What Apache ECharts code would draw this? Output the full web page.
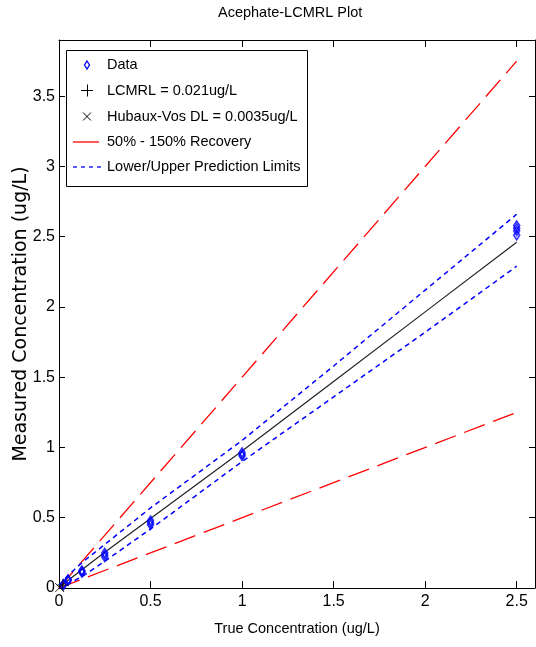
<!DOCTYPE html>
<html><head><meta charset="utf-8">
<script src="https://cdn.jsdelivr.net/npm/echarts@6/dist/echarts.min.js"></script>
<style>html,body{margin:0;padding:0;background:#fff}#c{width:536px;height:647px}</style>
</head><body><div id="c"></div>
<script>
// ---- data ----
const titleText = 'Acephate-LCMRL Plot';
const xName = 'True Concentration (ug/L)';
const yName = 'Measured Concentration (ug/L)';
const legendLabels = ['Data', 'LCMRL = 0.021ug/L', 'Hubaux-Vos DL = 0.0035ug/L', '50% - 150% Recovery', 'Lower/Upper Prediction Limits'];

const dataX = [0.025, 0.025, 0.05, 0.05, 0.05, 0.125, 0.125, 0.125, 0.25, 0.25, 0.25, 0.5, 0.5, 0.5, 1.0, 1.0, 1.0, 2.5, 2.5, 2.5, 2.5];
const dataY = [0.02, 0.028, 0.052, 0.057, 0.061, 0.11, 0.118, 0.125, 0.22, 0.235, 0.25, 0.45, 0.465, 0.48, 0.94, 0.95, 0.965, 2.51, 2.54, 2.56, 2.58];

const fitX   = [0, 0.05, 0.125, 0.25, 0.5, 1.0, 1.5, 2.0, 2.5];
const fitY   = [0.004, 0.055, 0.13, 0.255, 0.495, 0.975, 1.47, 1.965, 2.46];
const upperY = [0.02, 0.09, 0.18, 0.31, 0.57, 1.05, 1.58, 2.12, 2.66];
const lowerY = [-0.01, 0.03, 0.08, 0.19, 0.42, 0.9, 1.36, 1.82, 2.29];

const recoveryX = [0, 2.5];
const rec50  = [0, 1.25];
const rec150 = [0, 3.75];

const lcmrlPoint = [0.021, 0.021];
const hvPoint = [0.0035, 0.003];

const xMin = 0, xMax = 2.6, xStep = 0.5;
const yMin = 0, yMax = 3.9, yStep = 0.5;

// ---- build ----
const zip = (xs, ys) => xs.map((x, i) => [x, ys[i]]);
const SANS = "'Liberation Sans', Arial, sans-serif";
const plusPath = 'path://M5,0L5,10M0,5L10,5';
const crossPath = 'path://M0,0L10,10M10,0L0,10';

const chart = echarts.init(document.getElementById('c'), null, {renderer: 'canvas'});

const legendRows = [65, 90.5, 116.5, 142, 167];
const legendTextX = 107;
const legendGraphic = {
  type: 'group',
  children: [
    {type: 'rect', shape: {x: 66.5, y: 50.5, width: 241, height: 136}, style: {fill: '#fff', stroke: '#000', lineWidth: 1}, z: 100},
    {type: 'polygon', shape: {points: [[87, legendRows[0]-4], [89.5, legendRows[0]], [87, legendRows[0]+4], [84.5, legendRows[0]]]}, style: {fill: 'none', stroke: '#0000ff', lineWidth: 1.3}, z: 101},
    {type: 'line', shape: {x1: 81, y1: legendRows[1], x2: 93, y2: legendRows[1]}, style: {stroke: '#000', lineWidth: 1}, z: 101},
    {type: 'line', shape: {x1: 87.5, y1: legendRows[1]-6, x2: 87.5, y2: legendRows[1]+6}, style: {stroke: '#000', lineWidth: 1}, z: 101},
    {type: 'line', shape: {x1: 83, y1: legendRows[2]-4, x2: 91, y2: legendRows[2]+4}, style: {stroke: '#000', lineWidth: 1}, z: 101},
    {type: 'line', shape: {x1: 91, y1: legendRows[2]-4, x2: 83, y2: legendRows[2]+4}, style: {stroke: '#000', lineWidth: 1}, z: 101},
    {type: 'line', shape: {x1: 73, y1: legendRows[3], x2: 99, y2: legendRows[3]}, style: {stroke: '#ff0000', lineWidth: 1.3}, z: 101},
    {type: 'line', shape: {x1: 73, y1: legendRows[4], x2: 101, y2: legendRows[4]}, style: {stroke: '#0000ff', lineWidth: 1.3, lineDash: [4, 4]}, z: 101}
  ].concat(legendLabels.map((t, i) => ({
    type: 'text', x: legendTextX, y: legendRows[i], z: 101,
    style: {text: t, fill: '#000', font: "14.5px " + SANS, verticalAlign: 'middle'}
  })))
};

const axisCommon = {
  axisLine: {show: true, onZero: false, lineStyle: {color: '#000', width: 1}},
  splitLine: {show: false},
  axisTick: {show: true, inside: true, length: 6, lineStyle: {color: '#000'}}
};

const option = {
  animation: false,
  backgroundColor: '#fff',
  title: {
    text: titleText, left: 218, top: 5, padding: 0,
    textStyle: {fontFamily: SANS, fontSize: 14.5, fontWeight: 'normal', color: '#000'}
  },
  grid: {left: 59, right: 1, top: 40, bottom: 59, containLabel: false, outerBoundsMode: 'none'},
  xAxis: [
    Object.assign({}, axisCommon, {
      type: 'value', min: xMin, max: xMax, interval: xStep, position: 'bottom',
      axisTick: {show: true, inside: true, length: 7, lineStyle: {color: '#000'}},
      axisLabel: {show: true, showMaxLabel: false, margin: 6, color: '#000', fontFamily: SANS, fontSize: 16},
      name: xName, nameLocation: 'middle', nameGap: 33,
      nameTextStyle: {fontFamily: SANS, fontSize: 14.5, color: '#000'}
    }),
    Object.assign({}, axisCommon, {
      type: 'value', min: xMin, max: xMax, interval: xStep, position: 'top',
      axisTick: {show: true, inside: true, length: 7, lineStyle: {color: '#000'}},
      axisLabel: {show: false}
    })
  ],
  yAxis: [
    Object.assign({}, axisCommon, {
      type: 'value', min: yMin, max: yMax, interval: yStep, position: 'left',
      axisLabel: {show: true, showMaxLabel: false, margin: 4, color: '#000', fontFamily: SANS, fontSize: 16},
      name: yName, nameLocation: 'middle', nameGap: 28, nameMoveOverlap: false,
      nameTextStyle: {fontFamily: "'DejaVu Sans', sans-serif", fontSize: 19, color: '#000'}
    }),
    Object.assign({}, axisCommon, {
      type: 'value', min: yMin, max: yMax, interval: yStep, position: 'right',
      axisLabel: {show: false}
    })
  ],
  series: [
    {name: '150%', type: 'line', data: zip(recoveryX, rec150), showSymbol: false, symbol: 'none',
     lineStyle: {color: '#ff0000', width: 1.3, type: [22, 9]}, z: 2},
    {name: '50%', type: 'line', data: zip(recoveryX, rec50), showSymbol: false, symbol: 'none',
     lineStyle: {color: '#ff0000', width: 1.3, type: [22, 9]}, z: 2},
    {name: 'upper', type: 'line', data: zip(fitX, upperY), showSymbol: false, symbol: 'none',
     lineStyle: {color: '#0000ff', width: 1.5, type: [5, 4]}, z: 3},
    {name: 'lower', type: 'line', data: zip(fitX, lowerY), showSymbol: false, symbol: 'none',
     lineStyle: {color: '#0000ff', width: 1.5, type: [5, 4]}, z: 3},
    {name: 'fit', type: 'line', data: zip(fitX, fitY), showSymbol: false, symbol: 'none',
     lineStyle: {color: '#222', width: 1.2}, z: 4},
    {name: 'Data', type: 'scatter', data: zip(dataX, dataY), symbol: 'diamond', symbolSize: [6, 9],
     itemStyle: {color: 'rgba(0,0,0,0)', borderColor: '#0000ff', borderWidth: 1.6}, z: 5},
    {name: 'LCMRL', type: 'scatter', data: [lcmrlPoint], symbol: plusPath, symbolSize: 12,
     itemStyle: {color: 'rgba(0,0,0,0)', borderColor: '#000', borderWidth: 1}, z: 6},
    {name: 'HV', type: 'scatter', data: [hvPoint], symbol: crossPath, symbolSize: 9,
     itemStyle: {color: 'rgba(0,0,0,0)', borderColor: '#000', borderWidth: 1}, z: 6}
  ],
  graphic: [legendGraphic]
};
chart.setOption(option);
</script>
</body></html>
